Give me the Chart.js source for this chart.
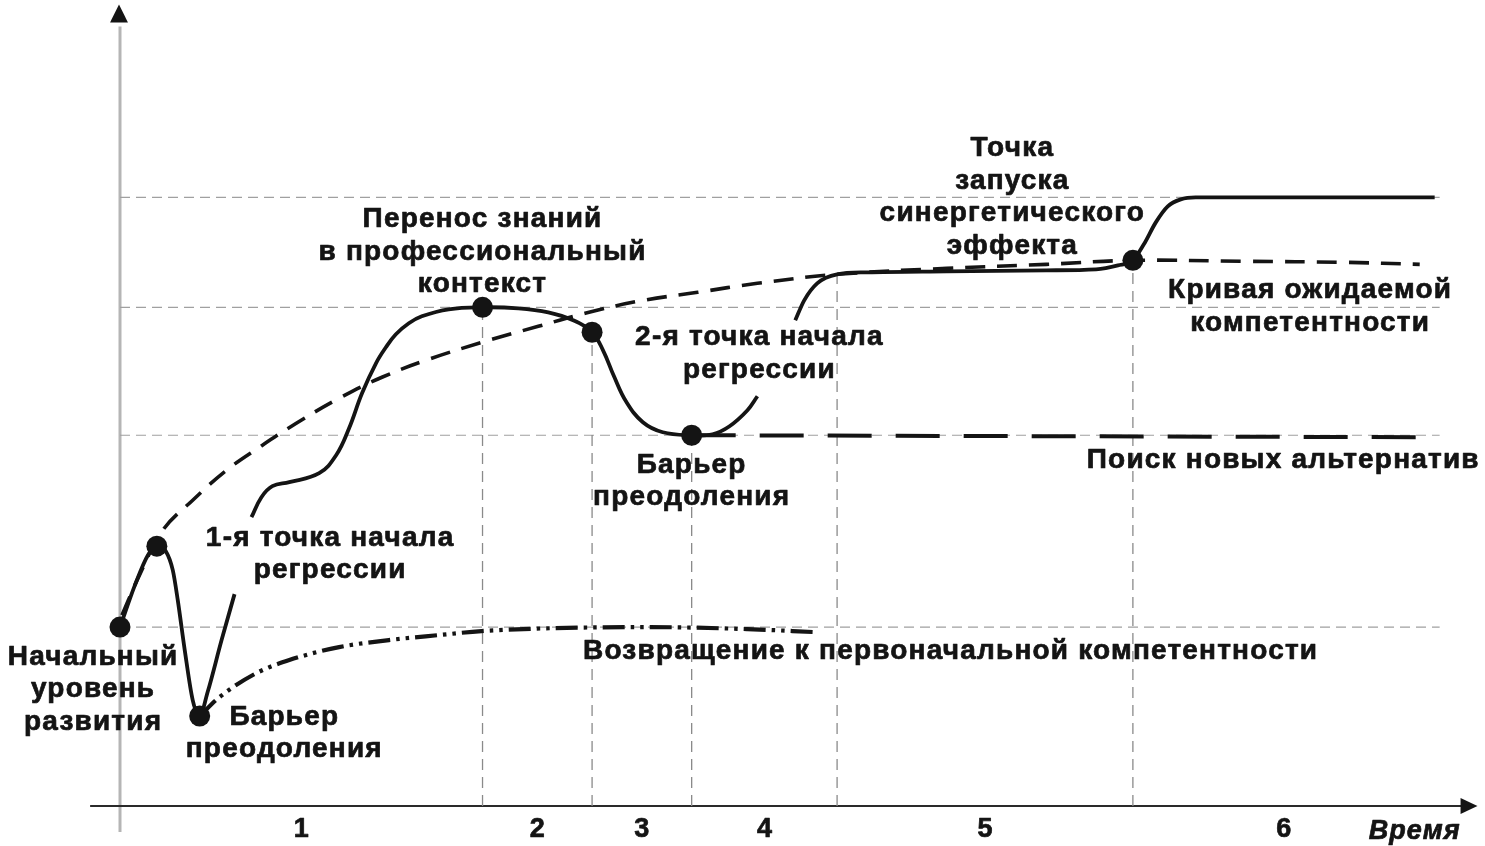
<!DOCTYPE html>
<html>
<head>
<meta charset="utf-8">
<script src="https://cdn.jsdelivr.net/npm/chart.js@4.4.0/dist/chart.umd.min.js"></script>
<style>
  html, body { margin: 0; padding: 0; background: #fff; overflow: hidden; }
  #wrap { width: 1485px; height: 846px; position: relative; }
</style>
</head>
<body>
<div id="wrap"><canvas id="competence-chart"></canvas></div>
<script>
// time (t) and competence level (L)
const phaseBounds = [0, 364, 474, 574, 720, 1017, 1320];
const phaseNames = ['1', '2', '3', '4', '5', '6'];
const boundaryTops = [499, 474, 371, 532, 546];
const gridLevels = [179, 371, 499, 609];

const mainRise = [[0,179],[15,221],[28,251],[37,260],[46,255],[53,236],[58,206],[65,156],[73,106],[80,90],[88,114],[102,166],[115,212]];
const mainTransfer = [[132,289],[142,309],[153,320],[170,324],[200,333],[217,351],[230,378],[243,413],[257,443],[267,459],[277,472],[290,483],[303,490],[330,497],[364,499],[400,498],[430,494],[455,486],[474,474],[485,456],[496,430],[508,405],[525,384],[545,374],[574,371],[595,372],[612,380],[630,396],[640,410]];
const mainSynergy = [[678,486],[687,506],[700,523],[720,532],[750,534],[830,535],[930,536],[980,537],[1002,541],[1017,546],[1028,562],[1040,584],[1052,600],[1065,607],[1080,609],[1180,609],[1320,609]];
const expectedCurve = [[2,191],[20,232],[43,276],[73,306],[107,336],[140,359],[177,383],[220,408],[263,429],[310,447],[367,465],[420,480],[467,493],[520,505],[580,514],[640,523],[720,532],[830,538],[930,542],[1017,546],[1130,545],[1230,544],[1305,542]];
const alternativesLine = [[574,371],[1320,369]];
const returnCurve = [[80,90],[100,109],[137,133],[170,146],[220,159],[270,166],[320,171],[363,175],[437,178],[530,179],[630,177],[698,174]];
const keyPoints = [[0,179],[37,260],[80,90],[364,499],[474,474],[574,371],[1017,546]];

const notes = [
  { lines: ['Начальный', 'уровень', 'развития'], t: -27, L: 149 },
  { lines: ['Барьер', 'преодоления'], t: 165, L: 89 },
  { lines: ['1-я точка начала', 'регрессии'], t: 211, L: 268 },
  { lines: ['Перенос знаний', 'в профессиональный', 'контекст'], t: 364, L: 587 },
  { lines: ['2-я точка начала', 'регрессии'], t: 642, L: 469 },
  { lines: ['Барьер', 'преодоления'], t: 574, L: 341 },
  { lines: ['Точка', 'запуска', 'синергетического', 'эффекта'], t: 896, L: 658 },
  { lines: ['Кривая ожидаемой', 'компетентности'], t: 1195, L: 516 },
  { lines: ['Поиск новых альтернатив'], t: 1168, L: 346 },
  { lines: ['Возвращение к первоначальной компетентности'], t: 834, L: 155 }
];

const FONT = '"Liberation Sans", Arial, sans-serif';
const INK = '#141414';

function toXY(pairs) {
  return pairs.map(p => ({ x: p[0], y: p[1] }));
}

function curve(pairs, extra) {
  return Object.assign({
    type: 'line',
    data: toXY(pairs),
    borderColor: INK,
    borderWidth: 3.8,
    pointRadius: 0,
    fill: false,
    clip: false,
    cubicInterpolationMode: 'monotone',
    borderCapStyle: 'butt',
    borderJoinStyle: 'round',
    order: 2
  }, extra || {});
}

const datasets = [];

gridLevels.forEach(lvl => {
  datasets.push({
    type: 'line',
    data: [{ x: 0, y: lvl }, { x: 1325, y: lvl }],
    borderColor: '#a0a0a0',
    borderWidth: 1.2,
    borderDash: [10, 6],
    pointRadius: 0,
    order: 10
  });
});

boundaryTops.forEach((top, i) => {
  datasets.push({
    type: 'line',
    data: [{ x: phaseBounds[i + 1], y: 0 }, { x: phaseBounds[i + 1], y: top }],
    borderColor: '#8a8a8a',
    borderWidth: 1.3,
    borderDash: [11, 7],
    pointRadius: 0,
    order: 9
  });
});

datasets.push(curve(returnCurve, { borderWidth: 4.2, borderDash: [22, 6, 3.5, 6, 3.5, 6] }));
datasets.push(curve(alternativesLine, { borderWidth: 4, borderDash: [44, 24] }));
datasets.push(curve(expectedCurve, { borderWidth: 3.6, borderDash: [20, 12], cubicInterpolationMode: 'default', tension: 0.4 }));
datasets.push(curve(mainRise));
datasets.push(curve(mainTransfer, { cubicInterpolationMode: 'default', tension: 0.4 }));
datasets.push(curve(mainSynergy));

datasets.push({
  type: 'line',
  data: toXY(keyPoints),
  showLine: false,
  clip: false,
  pointRadius: 10.5,
  pointBackgroundColor: INK,
  pointBorderWidth: 0,
  order: 0
});

const diagramExtras = {
  id: 'diagramExtras',
  beforeDatasetsDraw(chart) {
    const { ctx, scales: { x, y } } = chart;
    ctx.save();
    // vertical axis (grey) with arrow
    ctx.strokeStyle = '#b5b5b5';
    ctx.lineWidth = 3;
    ctx.beginPath();
    ctx.moveTo(x.getPixelForValue(0), y.getPixelForValue(-26));
    ctx.lineTo(x.getPixelForValue(0), y.getPixelForValue(780));
    ctx.stroke();
    ctx.fillStyle = INK;
    ctx.beginPath();
    ctx.moveTo(x.getPixelForValue(-1), y.getPixelForValue(802));
    ctx.lineTo(x.getPixelForValue(-10), y.getPixelForValue(784));
    ctx.lineTo(x.getPixelForValue(8), y.getPixelForValue(784));
    ctx.closePath();
    ctx.fill();
    // horizontal axis with arrow
    ctx.strokeStyle = '#2a2a2a';
    ctx.lineWidth = 2;
    ctx.beginPath();
    ctx.moveTo(x.getPixelForValue(-30), y.getPixelForValue(0));
    ctx.lineTo(x.getPixelForValue(1350), y.getPixelForValue(0));
    ctx.stroke();
    ctx.beginPath();
    ctx.moveTo(x.getPixelForValue(1363), y.getPixelForValue(0));
    ctx.lineTo(x.getPixelForValue(1346), y.getPixelForValue(8));
    ctx.lineTo(x.getPixelForValue(1346), y.getPixelForValue(-8));
    ctx.closePath();
    ctx.fill();
    ctx.restore();
  },
  afterDatasetsDraw(chart) {
    const { ctx, scales: { x, y } } = chart;
    ctx.save();
    ctx.fillStyle = INK;
    ctx.strokeStyle = INK;
    ctx.lineWidth = 0.7;
    ctx.lineJoin = 'round';
    ctx.textAlign = 'center';
    ctx.textBaseline = 'middle';
    ctx.font = 'bold 28px ' + FONT;
    ctx.letterSpacing = '1.2px';
    const write = (text, px, py) => {
      ctx.fillText(text, px, py);
      ctx.strokeText(text, px, py);
    };
    notes.forEach(n => {
      n.lines.forEach((line, k) => {
        write(line, x.getPixelForValue(n.t), y.getPixelForValue(n.L) + k * 32.5);
      });
    });
    // phase numbers under the time axis
    ctx.font = 'bold 27px ' + FONT;
    ctx.letterSpacing = '0px';
    phaseNames.forEach((name, i) => {
      const mid = (phaseBounds[i] + phaseBounds[i + 1]) / 2;
      write(name, x.getPixelForValue(mid), y.getPixelForValue(-24));
    });
    ctx.font = 'italic bold 27px ' + FONT;
    ctx.letterSpacing = '1px';
    write('Время', x.getPixelForValue(1300), y.getPixelForValue(-26));
    ctx.restore();
  }
};

new Chart(document.getElementById('competence-chart'), {
  data: { datasets: datasets },
  options: {
    responsive: true,
    maintainAspectRatio: false,
    animation: false,
    layout: { padding: { left: 120, right: 5, top: 10, bottom: 40 } },
    plugins: { legend: { display: false }, tooltip: { enabled: false } },
    scales: {
      x: { type: 'linear', min: 0, max: 1360, display: false },
      y: { type: 'linear', min: 0, max: 796, display: false }
    }
  },
  plugins: [diagramExtras]
});
</script>
</body>
</html>
